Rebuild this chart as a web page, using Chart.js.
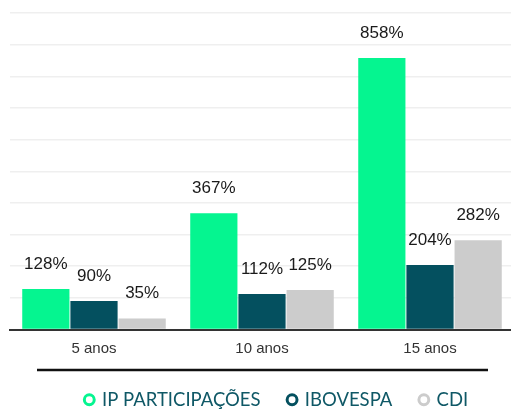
<!DOCTYPE html>
<html>
<head>
<meta charset="utf-8">
<script src="https://cdn.jsdelivr.net/npm/chart.js@4/dist/chart.umd.min.js"></script>
<style>
  html, body { margin: 0; padding: 0; background: #fff; overflow: hidden; }
  #wrap { width: 514px; height: 419px; }
</style>
</head>
<body>
<div id="wrap"><canvas id="chart"></canvas></div>
<script>
const labels = ['5 anos', '10 anos', '15 anos'];
const seriesNames = ['IP PARTICIPAÇÕES', 'IBOVESPA', 'CDI'];
const ipParticipacoes = [128, 367, 858];
const ibovespa = [90, 112, 204];
const cdi = [35, 125, 282];
const colors = ['#05f590', '#04505f', '#cccccc'];

// value labels above the bars + the rule over the legend
const valueLabels = {
  id: 'valueLabels',
  afterLayout(chart) {
    // legend sits a bit right of centre in the original
    chart.legend.left += 15;
    chart.legend.right += 15;
  },
  afterDatasetsDraw(chart) {
    const ctx = chart.ctx;
    ctx.save();
    ctx.font = '17px "Liberation Sans", Arial, sans-serif';
    ctx.fillStyle = '#1a1a1a';
    ctx.textAlign = 'center';
    ctx.textBaseline = 'middle';
    chart.data.datasets.forEach((ds, i) => {
      chart.getDatasetMeta(i).data.forEach((bar, j) => {
        ctx.fillText(ds.data[j] + '%', bar.x, bar.y - 25);
      });
    });
    ctx.restore();
  },
  afterDraw(chart) {
    const ctx = chart.ctx;
    ctx.save();
    ctx.strokeStyle = '#111';
    ctx.lineWidth = 2.5;
    ctx.beginPath();
    ctx.moveTo(37, 370);
    ctx.lineTo(488, 370);
    ctx.stroke();
    ctx.restore();
  }
};

new Chart(document.getElementById('chart'), {
  type: 'bar',
  data: {
    labels: labels,
    datasets: [
      { label: seriesNames[0], data: ipParticipacoes, backgroundColor: colors[0], borderColor: colors[0] },
      { label: seriesNames[1], data: ibovespa, backgroundColor: colors[1], borderColor: colors[1] },
      { label: seriesNames[2], data: cdi, backgroundColor: colors[2], borderColor: colors[2] },
    ],
  },
  options: {
    responsive: true,
    maintainAspectRatio: false,
    animation: false,
    categoryPercentage: 0.86,
    barPercentage: 0.98,
    layout: { padding: { left: 10, top: 13, right: 0, bottom: 0 } },
    scales: {
      x: {
        grid: { display: false, drawTicks: false },
        border: { display: true, color: '#333', width: 2 },
        ticks: { color: '#333', padding: 10, font: { family: '"Liberation Sans", Arial, sans-serif', size: 15 } },
        afterFit(scale) { scale.height = 33; },
      },
      y: {
        min: 0,
        max: 1000,
        ticks: { display: false, stepSize: 100 },
        border: { display: false },
        grid: { color: '#efefef', lineWidth: 1.5, drawTicks: false },
      },
    },
    plugins: {
      tooltip: { enabled: false },
      legend: {
        position: 'bottom',
        labels: {
          usePointStyle: true,
          pointStyle: 'circle',
          boxHeight: 7,
          boxWidth: 7,
          padding: 28,
          color: '#0f5866',
          font: { family: 'Lato, sans-serif', size: 18.5 },
          generateLabels(chart) {
            return chart.data.datasets.map((ds, i) => ({
              text: ds.label,
              fillStyle: '#fff',
              strokeStyle: colors[i],
              lineWidth: 3,
              pointStyle: 'circle',
              fontColor: '#0f5866',
              datasetIndex: i,
            }));
          },
        },
      },
    },
  },
  plugins: [valueLabels],
});
</script>
</body>
</html>
